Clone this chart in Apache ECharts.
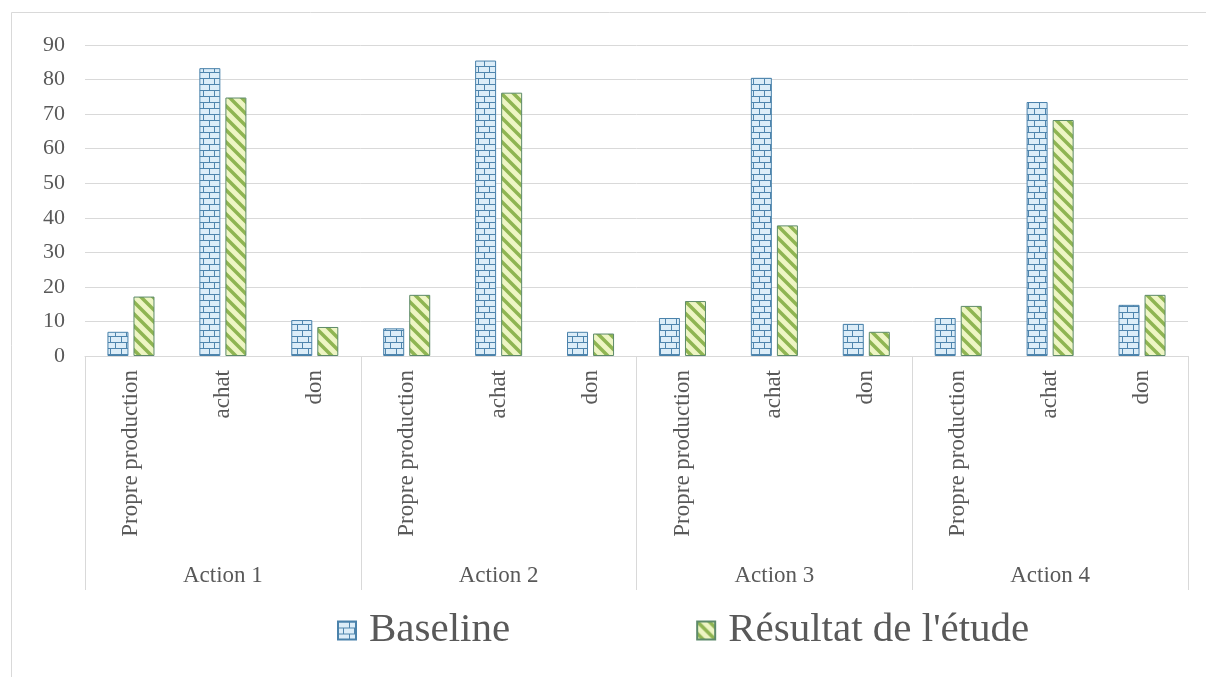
<!DOCTYPE html>
<html>
<head>
<meta charset="utf-8">
<script src="https://cdn.jsdelivr.net/npm/echarts@6/dist/echarts.min.js"></script>
<style>
html,body{margin:0;padding:0;background:#fff;}
#c{width:1206px;height:677px;}
</style>
</head>
<body>
<div id="c"></div>
<script>
// ---- data ----
const groups = ['Action 1', 'Action 2', 'Action 3', 'Action 4'];
const subCategories = ['Propre production', 'achat', 'don'];
const seriesNames = ['Baseline', "Résultat de l'étude"];
const baseline = [7, 83.3, 10.4, 8, 85.5, 7, 11, 80.5, 9.3, 11, 73.5, 14.8];
const resultat = [17.2, 74.8, 8.4, 17.7, 76.2, 6.5, 15.9, 37.8, 7, 14.5, 68.3, 17.7];
const yTicks = {min: 0, max: 90, interval: 10};

const categories = [];
groups.forEach(() => subCategories.forEach(s => categories.push(s)));

// ---- patterns ----
function brickPattern() {
  const c = document.createElement('canvas');
  c.width = 11; c.height = 12;
  const g = c.getContext('2d');
  g.fillStyle = '#dcedf8'; g.fillRect(0, 0, 11, 12);
  g.fillStyle = '#4f85ad';
  g.fillRect(0, 0, 11, 1);
  g.fillRect(0, 6, 11, 1);
  g.fillRect(0, 0, 1, 6);
  g.fillRect(5, 6, 1, 6);
  return c;
}
function stripePattern() {
  const c = document.createElement('canvas');
  const s = 12;
  c.width = s; c.height = s;
  const g = c.getContext('2d');
  g.fillStyle = '#eef5c4'; g.fillRect(0, 0, s, s);
  g.strokeStyle = '#8fb552'; g.lineWidth = 3.5;
  g.beginPath();
  g.moveTo(-s, 0); g.lineTo(2 * s, 3 * s);
  g.moveTo(0, -s); g.lineTo(2 * s, s);
  g.moveTo(-s, -s); g.lineTo(s, s);
  g.moveTo(-2 * s, -s); g.lineTo(s, 2 * s);
  g.stroke();
  return c;
}

const chart = echarts.init(document.getElementById('c'));
const font = '"Liberation Serif", "DejaVu Serif", serif';
chart.setOption({
  backgroundColor: '#ffffff',
  animation: false,
  graphic: [{
    type: 'rect', left: 9, top: 10, silent: true,
    shape: {width: 1400, height: 900},
    style: {fill: 'none', stroke: '#d9d9d9', lineWidth: 1}
  }],
  grid: {left: 85, right: 18, top: 45, bottom: 321, containLabel: false},
  legend: {
    data: seriesNames,
    icon: 'rect',
    left: 332, top: 605,
    itemWidth: 18, itemHeight: 18,
    itemGap: 186,
    textStyle: {fontFamily: font, fontSize: 41, color: '#595959', padding: [0, 0, 0, 8]}
  },
  xAxis: [{
    type: 'category',
    data: categories,
    axisLine: {show: true, lineStyle: {color: '#d9d9d9', width: 1}},
    axisTick: {show: false},
    axisLabel: {rotate: 90, margin: 14, interval: 0, fontFamily: font, fontSize: 23, color: '#595959'}
  }, {
    type: 'category',
    position: 'bottom',
    data: groups,
    axisLine: {show: false},
    axisTick: {show: true, length: 234, lineStyle: {color: '#d9d9d9', width: 1}},
    axisLabel: {margin: 208, fontFamily: font, fontSize: 23, color: '#595959'}
  }],
  yAxis: {
    type: 'value',
    min: yTicks.min, max: yTicks.max, interval: yTicks.interval,
    axisLine: {show: false},
    axisTick: {show: false},
    splitLine: {lineStyle: {color: '#d9d9d9', width: 1}},
    axisLabel: {margin: 20, fontFamily: font, fontSize: 22, color: '#595959'}
  },
  series: [{
    name: seriesNames[0],
    type: 'bar',
    xAxisIndex: 0,
    data: baseline,
    barWidth: 21,
    barGap: '24%',
    itemStyle: {color: {image: brickPattern(), repeat: 'repeat'}, borderColor: '#4a82ab', borderWidth: 1}
  }, {
    name: seriesNames[1],
    type: 'bar',
    xAxisIndex: 0,
    data: resultat,
    barWidth: 21,
    itemStyle: {color: {image: stripePattern(), repeat: 'repeat'}, borderColor: '#5d8a6a', borderWidth: 1}
  }]
});
</script>
</body>
</html>
